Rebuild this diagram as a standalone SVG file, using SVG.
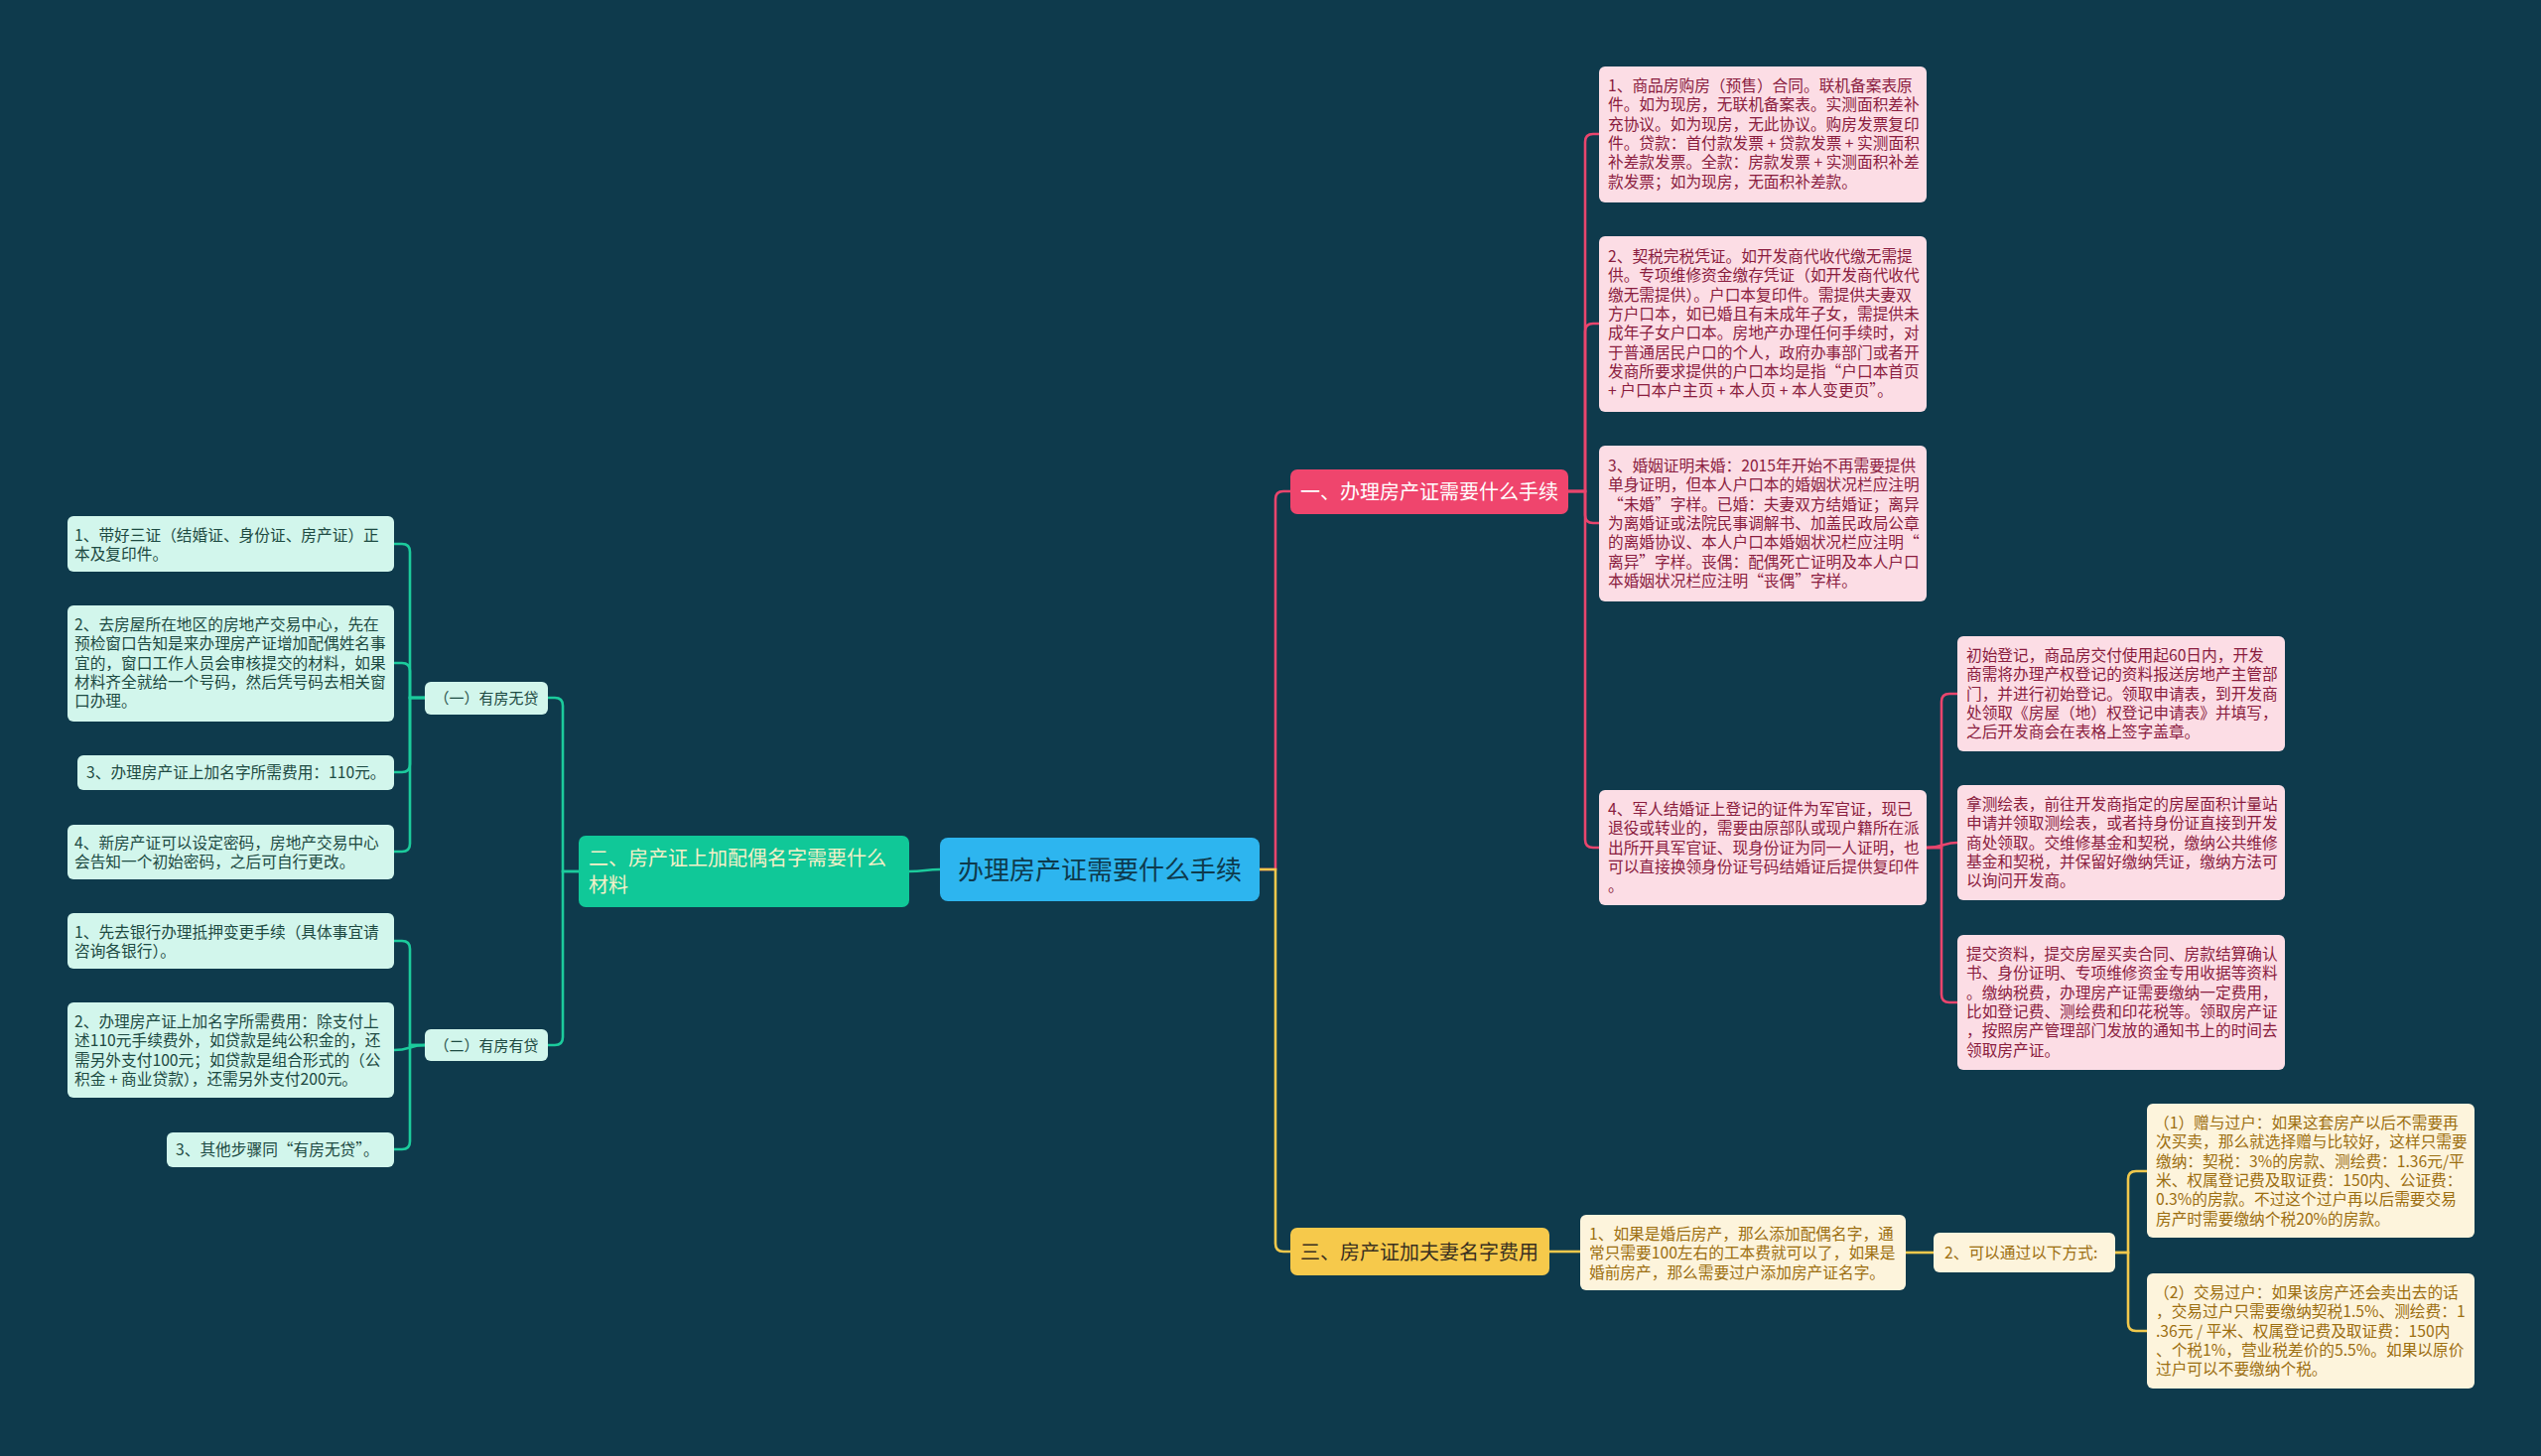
<svg xmlns="http://www.w3.org/2000/svg" width="2560" height="1467" viewBox="0 0 2560 1467">
<style>
text{font-family:"Noto Sans CJK SC","Noto Sans",sans-serif;}
.t{font-size:15.7px;}
.pk rect{fill:#fcdde5;}
.pk text{fill:#8a1c3e;}
.mn rect{fill:#d2f6ec;}
.mn text{fill:#1d4a42;}
.cr rect{fill:#fdf4dc;}
.cr text{fill:#9c6e10;}
.red{stroke:#e9456d;}
.grn{stroke:#1ccb9c;}
.yel{stroke:#f0c84c;}
#connectors path{fill:none;stroke-width:2.6;}
</style>
<rect width="2560" height="1467" fill="#0e3a4c"/>
<g id="connectors">
<path class="red" d="M1269,876 H1285 V503 Q1285,495 1293,495 H1300"/>
<path class="yel" d="M1269,876 H1285 V1253 Q1285,1261 1293,1261 H1300"/>
<path class="grn" d="M947,876 C932,876 932,878 916,878"/>
<path class="red" d="M1580,495 H1597 V143 Q1597,135 1605,135 H1611"/>
<path class="red" d="M1580,495 H1597 V334 Q1597,326 1605,326 H1611"/>
<path class="red" d="M1580,495 H1597 V519 Q1597,527 1605,527 H1611"/>
<path class="red" d="M1580,495 H1597 V846 Q1597,854 1605,854 H1611"/>
<path class="red" d="M1941,854 H1956 V707 Q1956,699 1964,699 H1972"/>
<path class="red" d="M1941,854 C1958,854 1958,849 1972,849"/>
<path class="red" d="M1941,854 H1956 V1002 Q1956,1010 1964,1010 H1972"/>
<path class="yel" d="M1561,1261 H1592"/>
<path class="yel" d="M1920,1262 H1948"/>
<path class="yel" d="M2131,1262 H2144 V1188 Q2144,1180 2152,1180 H2163"/>
<path class="yel" d="M2131,1262 H2144 V1333 Q2144,1341 2152,1341 H2163"/>
<path class="grn" d="M583,878 H567 V711 Q567,703 559,703 H552"/>
<path class="grn" d="M583,878 H567 V1045 Q567,1053 559,1053 H552"/>
<path class="grn" d="M428,703 H413 V556 Q413,548 405,548 H397"/>
<path class="grn" d="M428,703 H413 V676 Q413,668 405,668 H397"/>
<path class="grn" d="M428,703 H413 V770 Q413,778 405,778 H397"/>
<path class="grn" d="M428,703 H413 V850 Q413,858 405,858 H397"/>
<path class="grn" d="M428,1053 H413 V956 Q413,948 405,948 H397"/>
<path class="grn" d="M428,1053 C413,1053 413,1058 397,1058"/>
<path class="grn" d="M428,1053 H413 V1150 Q413,1158 405,1158 H397"/>
</g>

<g id="center">
<rect x="947" y="844" width="322" height="64" rx="8" fill="#2db5ef"/>
<text x="1108" y="886" font-size="26" text-anchor="middle" fill="#0e3a4c">办理房产证需要什么手续</text>
</g>
<g id="branch1">
<rect x="1300" y="473" width="280" height="45" rx="7" fill="#ef456d"/>
<text x="1440" y="503" font-size="20" text-anchor="middle" fill="#ffffff">一、办理房产证需要什么手续</text>
</g>
<g id="branch2">
<rect x="583" y="842" width="333" height="72" rx="7" fill="#10c898"/>
<text x="593" y="872" font-size="20" fill="#f4f0c8">二、房产证上加配偶名字需要什么</text>
<text x="593" y="899" font-size="20" fill="#f4f0c8">材料</text>
</g>
<g id="branch3">
<rect x="1300" y="1237" width="261" height="48" rx="7" fill="#f6c94b"/>
<text x="1430" y="1269" font-size="20" text-anchor="middle" fill="#3a3020">三、房产证加夫妻名字费用</text>
</g>

<g id="n1" class="pk t">
<rect x="1611" y="67" width="330" height="137" rx="6"/>
<text x="1620" y="92">1、商品房购房（预售）合同。联机备案表原</text>
<text x="1620" y="111.3">件。如为现房，无联机备案表。实测面积差补</text>
<text x="1620" y="130.6">充协议。如为现房，无此协议。购房发票复印</text>
<text x="1620" y="149.9">件。贷款：首付款发票 + 贷款发票 + 实测面积</text>
<text x="1620" y="169.2">补差款发票。全款：房款发票 + 实测面积补差</text>
<text x="1620" y="188.5">款发票；如为现房，无面积补差款。</text>
</g>
<g id="n2" class="pk t">
<rect x="1611" y="238" width="330" height="177" rx="6"/>
<text x="1620" y="264">2、契税完税凭证。如开发商代收代缴无需提</text>
<text x="1620" y="283.3">供。专项维修资金缴存凭证（如开发商代收代</text>
<text x="1620" y="302.6">缴无需提供）。户口本复印件。需提供夫妻双</text>
<text x="1620" y="321.9">方户口本，如已婚且有未成年子女，需提供未</text>
<text x="1620" y="341.2">成年子女户口本。房地产办理任何手续时，对</text>
<text x="1620" y="360.5">于普通居民户口的个人，政府办事部门或者开</text>
<text x="1620" y="379.8">发商所要求提供的户口本均是指“户口本首页</text>
<text x="1620" y="399.1">+ 户口本户主页 + 本人页 + 本人变更页”。</text>
</g>
<g id="n3" class="pk t">
<rect x="1611" y="449" width="330" height="157" rx="6"/>
<text x="1620" y="475">3、婚姻证明未婚：2015年开始不再需要提供</text>
<text x="1620" y="494.3">单身证明，但本人户口本的婚姻状况栏应注明</text>
<text x="1620" y="513.6">“未婚”字样。已婚：夫妻双方结婚证；离异</text>
<text x="1620" y="532.9">为离婚证或法院民事调解书、加盖民政局公章</text>
<text x="1620" y="552.2">的离婚协议、本人户口本婚姻状况栏应注明“</text>
<text x="1620" y="571.5">离异”字样。丧偶：配偶死亡证明及本人户口</text>
<text x="1620" y="590.8">本婚姻状况栏应注明“丧偶”字样。</text>
</g>
<g id="n4" class="pk t">
<rect x="1611" y="796" width="330" height="116" rx="6"/>
<text x="1620" y="821">4、军人结婚证上登记的证件为军官证，现已</text>
<text x="1620" y="840.3">退役或转业的，需要由原部队或现户籍所在派</text>
<text x="1620" y="859.6">出所开具军官证、现身份证为同一人证明，也</text>
<text x="1620" y="878.9">可以直接换领身份证号码结婚证后提供复印件</text>
<text x="1620" y="898.2">。</text>
</g>
<g id="s1" class="pk t">
<rect x="1972" y="641" width="330" height="116" rx="6"/>
<text x="1981" y="666">初始登记，商品房交付使用起60日内，开发</text>
<text x="1981" y="685.3">商需将办理产权登记的资料报送房地产主管部</text>
<text x="1981" y="704.6">门，并进行初始登记。领取申请表，到开发商</text>
<text x="1981" y="723.9">处领取《房屋（地）权登记申请表》并填写，</text>
<text x="1981" y="743.2">之后开发商会在表格上签字盖章。</text>
</g>
<g id="s2" class="pk t">
<rect x="1972" y="791" width="330" height="116" rx="6"/>
<text x="1981" y="816">拿测绘表，前往开发商指定的房屋面积计量站</text>
<text x="1981" y="835.3">申请并领取测绘表，或者持身份证直接到开发</text>
<text x="1981" y="854.6">商处领取。交维修基金和契税，缴纳公共维修</text>
<text x="1981" y="873.9">基金和契税，并保留好缴纳凭证，缴纳方法可</text>
<text x="1981" y="893.2">以询问开发商。</text>
</g>
<g id="s3" class="pk t">
<rect x="1972" y="942" width="330" height="136" rx="6"/>
<text x="1981" y="967">提交资料，提交房屋买卖合同、房款结算确认</text>
<text x="1981" y="986.3">书、身份证明、专项维修资金专用收据等资料</text>
<text x="1981" y="1005.6">。缴纳税费，办理房产证需要缴纳一定费用，</text>
<text x="1981" y="1024.9">比如登记费、测绘费和印花税等。领取房产证</text>
<text x="1981" y="1044.2">，按照房产管理部门发放的通知书上的时间去</text>
<text x="1981" y="1063.5">领取房产证。</text>
</g>

<g id="b1" class="cr t">
<rect x="1592" y="1224" width="328" height="76" rx="6"/>
<text x="1601" y="1249">1、如果是婚后房产，那么添加配偶名字，通</text>
<text x="1601" y="1268.3">常只需要100左右的工本费就可以了，如果是</text>
<text x="1601" y="1287.6">婚前房产，那么需要过户添加房产证名字。</text>
</g>
<g id="b2" class="cr t">
<rect x="1948" y="1242" width="183" height="40" rx="6"/>
<text x="1959" y="1268">2、可以通过以下方式:</text>
</g>
<g id="b3" class="cr t">
<rect x="2163" y="1112" width="330" height="135" rx="6"/>
<text x="2170" y="1137">（1）赠与过户：如果这套房产以后不需要再</text>
<text x="2172" y="1156.3">次买卖，那么就选择赠与比较好，这样只需要</text>
<text x="2172" y="1175.6">缴纳：契税：3%的房款、测绘费：1.36元/平</text>
<text x="2172" y="1194.9">米、权属登记费及取证费：150内、公证费：</text>
<text x="2172" y="1214.2">0.3%的房款。不过这个过户再以后需要交易</text>
<text x="2172" y="1233.5">房产时需要缴纳个税20%的房款。</text>
</g>
<g id="b4" class="cr t">
<rect x="2163" y="1283" width="330" height="116" rx="6"/>
<text x="2170" y="1308">（2）交易过户：如果该房产还会卖出去的话</text>
<text x="2172" y="1327.3">，交易过户只需要缴纳契税1.5%、测绘费：1</text>
<text x="2172" y="1346.6">.36元 / 平米、权属登记费及取证费：150内</text>
<text x="2172" y="1365.9">、个税1%，营业税差价的5.5%。如果以原价</text>
<text x="2172" y="1385.2">过户可以不要缴纳个税。</text>
</g>

<g id="m1" class="mn">
<rect x="428" y="687" width="124" height="33" rx="6"/>
<text x="490" y="709" font-size="15" text-anchor="middle">（一）有房无贷</text>
</g>
<g id="m2" class="mn">
<rect x="428" y="1037" width="124" height="32" rx="6"/>
<text x="490" y="1059" font-size="15" text-anchor="middle">（二）有房有贷</text>
</g>
<g id="l1" class="mn t">
<rect x="68" y="520" width="329" height="56" rx="6"/>
<text x="75" y="545">1、带好三证（结婚证、身份证、房产证）正</text>
<text x="75" y="564.3">本及复印件。</text>
</g>
<g id="l2" class="mn t">
<rect x="68" y="610" width="329" height="117" rx="6"/>
<text x="75" y="635">2、去房屋所在地区的房地产交易中心，先在</text>
<text x="75" y="654.3">预检窗口告知是来办理房产证增加配偶姓名事</text>
<text x="75" y="673.6">宜的，窗口工作人员会审核提交的材料，如果</text>
<text x="75" y="692.9">材料齐全就给一个号码，然后凭号码去相关窗</text>
<text x="75" y="712.2">口办理。</text>
</g>
<g id="l3" class="mn t">
<rect x="78" y="761" width="319" height="35" rx="6"/>
<text x="87" y="784">3、办理房产证上加名字所需费用：110元。</text>
</g>
<g id="l4" class="mn t">
<rect x="68" y="831" width="329" height="55" rx="6"/>
<text x="75" y="855">4、新房产证可以设定密码，房地产交易中心</text>
<text x="75" y="874.3">会告知一个初始密码，之后可自行更改。</text>
</g>
<g id="l5" class="mn t">
<rect x="68" y="920" width="329" height="56" rx="6"/>
<text x="75" y="945">1、先去银行办理抵押变更手续（具体事宜请</text>
<text x="75" y="964.3">咨询各银行）。</text>
</g>
<g id="l6" class="mn t">
<rect x="68" y="1010" width="329" height="96" rx="6"/>
<text x="75" y="1035">2、办理房产证上加名字所需费用：除支付上</text>
<text x="75" y="1054.3">述110元手续费外，如贷款是纯公积金的，还</text>
<text x="75" y="1073.6">需另外支付100元；如贷款是组合形式的（公</text>
<text x="75" y="1092.9">积金 + 商业贷款），还需另外支付200元。</text>
</g>
<g id="l7" class="mn t">
<rect x="168" y="1141" width="229" height="35" rx="6"/>
<text x="177" y="1164">3、其他步骤同“有房无贷”。</text>
</g>
</svg>
